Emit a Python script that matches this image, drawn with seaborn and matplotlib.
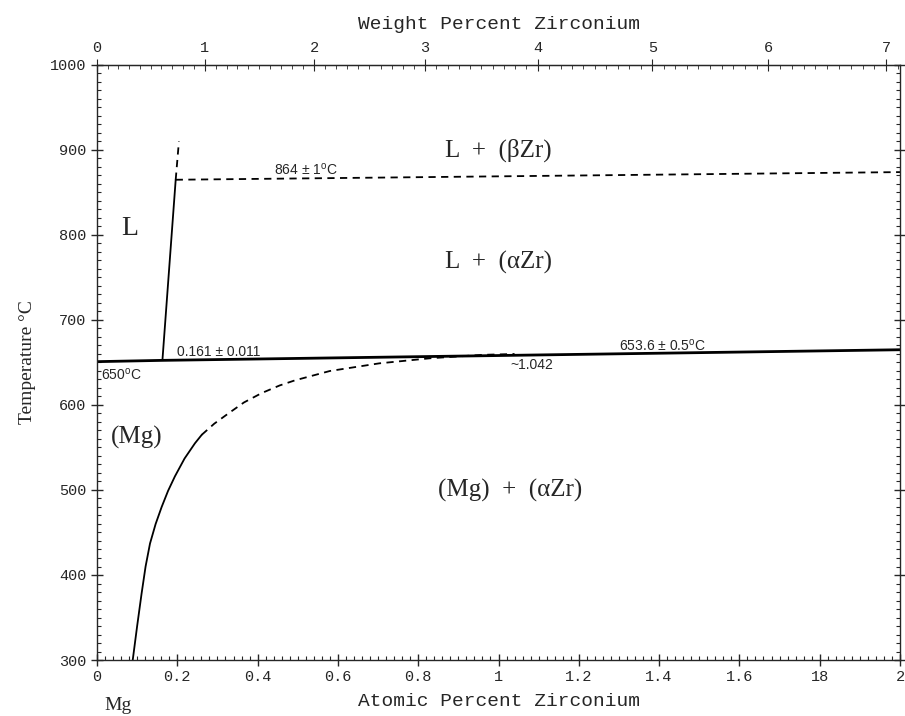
import numpy as np
import pandas as pd
import matplotlib
matplotlib.use("Agg")
import matplotlib.pyplot as plt
import seaborn as sns
from matplotlib.ticker import MultipleLocator, FixedLocator

sns.set_style("ticks")
plt.rcParams['font.family'] = ['Liberation Mono', 'DejaVu Sans']

# --- data (atomic % Zr, temperature degC) ---
peritectic_x = [0.0, 0.161, 2.0]
peritectic_t = [651.0, 652.5, 665.0]

liquidus_x = [0.163, 0.196]
liquidus_t = [653.0, 865.0]

liquidus_ext_x = [0.196, 0.204]
liquidus_ext_t = [865.0, 910.0]

transf_x = [0.196, 2.0]
transf_t = [865.0, 874.0]

solvus_solid_x = [0.089, 0.100, 0.111, 0.121, 0.132, 0.146, 0.161, 0.177, 0.194, 0.218, 0.244, 0.261]
solvus_solid_t = [300.0, 340.0, 378.0, 410.0, 437.0, 460.0, 480.0, 499.0, 516.0, 537.0, 555.0, 565.0]

solvus_dash_x = [0.261, 0.292, 0.327, 0.366, 0.41, 0.455, 0.493, 0.58, 0.703, 0.83, 0.96, 1.04]
solvus_dash_t = [565.0, 578.0, 590.0, 603.0, 614.0, 623.0, 629.0, 640.0, 649.0, 655.0, 659.0, 660.0]

y_ticks = [300, 400, 500, 600, 700, 800, 900, 1000]
x_ticks = [0, 0.2, 0.4, 0.6, 0.8, 1, 1.2, 1.4, 1.6, 1.8, 2]
x_tick_labels = ["0", "0.2", "0.4", "0.6", "0.8", "1", "1.2", "1.4", "1.6", "18", "2"]
wt_ticks = [0, 1, 2, 3, 4, 5, 6, 7]

M_ZR, M_MG = 91.224, 24.305

def at_to_wt(a):
    a = np.asarray(a, dtype=float)
    return 100 * a * M_ZR / (a * M_ZR + (100 - a) * M_MG)

def wt_to_at(w):
    w = np.asarray(w, dtype=float)
    return 100 * (w / M_ZR) / (w / M_ZR + (100 - w) / M_MG)

fig = plt.figure(figsize=(9.05, 7.16), dpi=100)
ax = fig.add_axes([97/905, 1-660/716, (900-97)/905, (660-65)/716])

def draw(xs, ts, dashed=False, lw=1.3):
    df = pd.DataFrame({"x": xs, "t": ts})
    sns.lineplot(data=df, x="x", y="t", ax=ax, color="black", lw=lw,
                 sort=False, estimator=None,
                 linestyle=(0, (4, 3)) if dashed else "-")

draw(peritectic_x, peritectic_t, lw=2.0)
draw(liquidus_x, liquidus_t)
draw(liquidus_ext_x, liquidus_ext_t, dashed=True)
draw(transf_x, transf_t, dashed=True)
draw(solvus_solid_x, solvus_solid_t)
draw(solvus_dash_x, solvus_dash_t, dashed=True)

ax.set_xlim(0, 2)
ax.set_ylim(300, 1000)
ax.set_xticks(x_ticks)
ax.set_xticklabels(x_tick_labels)
ax.set_yticks(y_ticks)
ax.xaxis.set_minor_locator(MultipleLocator(0.02))
ax.yaxis.set_minor_locator(MultipleLocator(10))
ax.tick_params(which="major", direction="inout", length=8, width=1, labelsize=11,
               right=True)
ax.tick_params(which="minor", direction="in", length=3, width=0.8, right=True)
ax.tick_params(axis="y", labelright=False)
for s in ax.spines.values():
    s.set_linewidth(1.0)

ax.set_xlabel("Atomic Percent Zirconium", fontsize=14, labelpad=6)
ax.set_ylabel("Temperature °C", fontsize=14, labelpad=10, family=['Liberation Serif'])

sec = ax.secondary_xaxis("top", functions=(at_to_wt, wt_to_at))
sec.set_xticks(wt_ticks)
sec.xaxis.set_minor_locator(FixedLocator(np.arange(0, 7.15, 0.1)))
sec.tick_params(which="major", direction="inout", length=8, labelsize=11)
sec.tick_params(which="minor", direction="in", length=3)
sec.set_xlabel("Weight Percent Zirconium", fontsize=14, labelpad=8)

serif = ['Liberation Serif', 'DejaVu Serif']
ax.text(0.082, 808, "L", fontsize=20, family=serif, ha="center", va="center")
ax.text(1.0, 900, "L  +  (βZr)", fontsize=18, family=serif, ha="center", va="center")
ax.text(1.0, 768, "L  +  (αZr)", fontsize=18, family=serif, ha="center", va="center")
ax.text(0.1, 562, "(Mg)", fontsize=18, family=serif, ha="center", va="center")
ax.text(1.03, 500, "(Mg)  +  (αZr)", fontsize=18, family=serif, ha="center", va="center")

sans = ['Liberation Sans', 'DejaVu Sans']
ax.text(0.44, 868, "864 ± 1$^\\mathregular{o}$C", fontsize=10, family=sans, ha="left", va="bottom")
ax.text(0.2, 654, "0.161 ± 0.011", fontsize=10, family=sans, ha="left", va="bottom")
ax.text(1.3, 661, "653.6 ± 0.5$^\\mathregular{o}$C", fontsize=10, family=sans, ha="left", va="bottom")
ax.text(0.01, 645, "650$^\\mathregular{o}$C", fontsize=10, family=sans, ha="left", va="top")
ax.text(1.03, 655, "~1.042", fontsize=10, family=sans, ha="left", va="top")

fig.text(118/905, 1-706/716, "Mg", fontsize=14, family=serif, ha="center", va="center")

fig.savefig("out.png", dpi=100)
